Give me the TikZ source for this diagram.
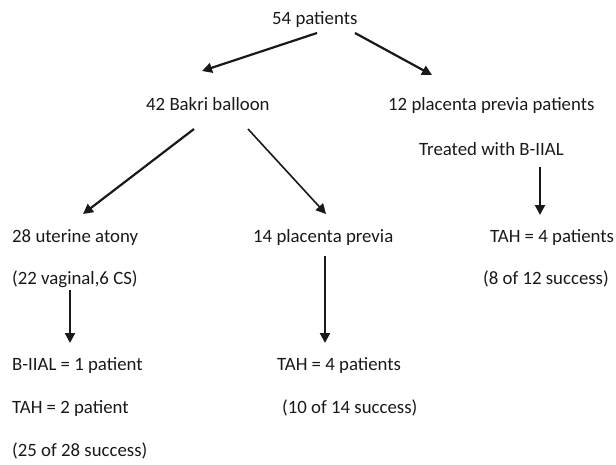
\documentclass[tikz,border=0pt]{standalone}
\usepackage{fontspec}
\setmainfont{Carlito}
\usetikzlibrary{arrows.meta}
\begin{document}
\begin{tikzpicture}[x=1pt,y=-1pt,
  lbl/.style={anchor=base west,inner sep=0pt,font=\fontsize{18.8}{20}\selectfont,text=black!90},
  arr/.style={line width=2.2pt,-{Triangle[length=10pt,width=10pt]},black!90}]
\useasboundingbox (0,0) rectangle (616,464);
\node[lbl] (n54) at (272,24) {54 patients};
\node[lbl] (bakri) at (146,110) {42 Bakri balloon};
\node[lbl] (pp12) at (388,110) {12 placenta previa patients};
\node[lbl] (treat) at (419,155) {Treated with B-IIAL};
\node[lbl] (ua) at (12,242) {28 uterine atony};
\node[lbl] (uav) at (12,284) {(22 vaginal,6 CS)};
\node[lbl] (pp14) at (253,242) {14 placenta previa};
\node[lbl] (tahr) at (490,242) {TAH = 4 patients};
\node[lbl] (succr) at (483,284) {(8 of 12 success)};
\node[lbl] (biial) at (12,370) {B-IIAL = 1 patient};
\node[lbl] (tah2) at (12,413) {TAH = 2 patient};
\node[lbl] (succl) at (12,456) {(25 of 28 success)};
\node[lbl] (tahm) at (277,370) {TAH = 4 patients};
\node[lbl] (succm) at (282,413) {(10 of 14 success)};
% connector endpoints
\coordinate (a1s) at (317,33);  \coordinate (a1e) at (202,71);
\coordinate (a2s) at (355,33);  \coordinate (a2e) at (432,75);
\coordinate (a3s) at (194,129); \coordinate (a3e) at (83,214);
\coordinate (a4s) at (248,129); \coordinate (a4e) at (326,214);
\coordinate (a5s) at (540,167); \coordinate (a5e) at (540,215);
\coordinate (a6s) at (70,290);  \coordinate (a6e) at (70,343);
\coordinate (a7s) at (325,256); \coordinate (a7e) at (325,343);
\draw[arr] (a1s) -- (a1e);
\draw[arr] (a2s) -- (a2e);
\draw[arr] (a3s) -- (a3e);
\draw[arr,line width=1.6pt] (a4s) -- (a4e);
\draw[arr] (a5s) -- (a5e);
\draw[arr] (a6s) -- (a6e);
\draw[arr] (a7s) -- (a7e);
\end{tikzpicture}
\end{document}
